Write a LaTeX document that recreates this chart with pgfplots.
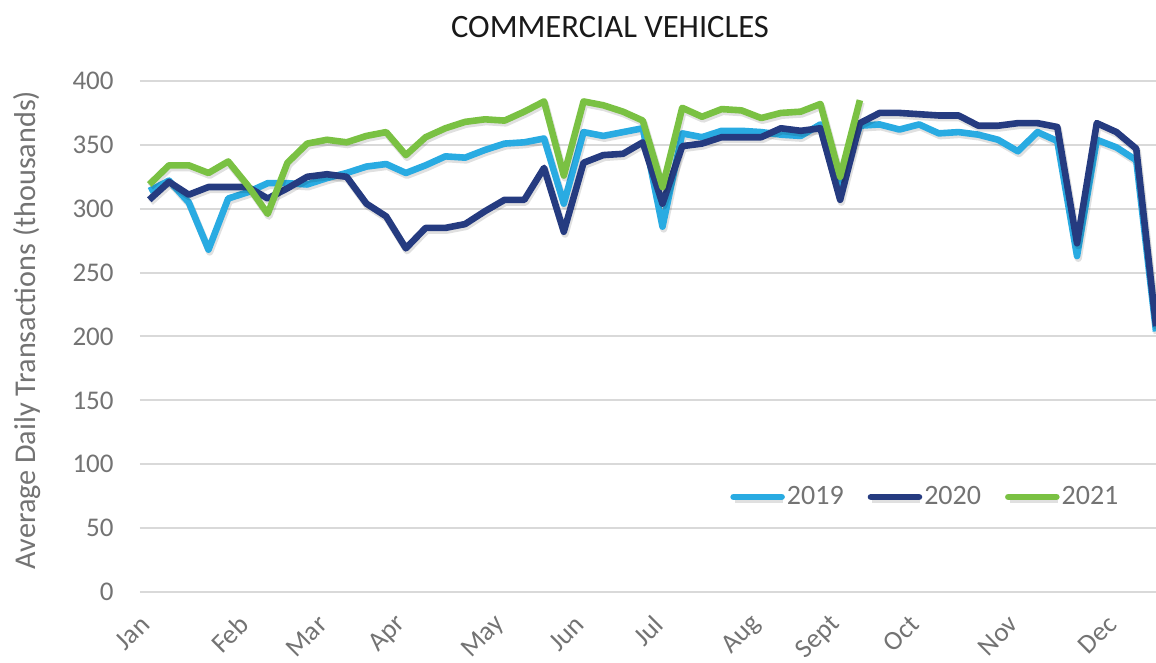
\documentclass[border=0pt]{standalone}
\usepackage{pgfplots}
\pgfplotsset{compat=1.18}
\usepackage{fontspec}
\setmainfont{Carlito}
\definecolor{c19}{HTML}{29ABE2}
\definecolor{c20}{HTML}{253B80}
\definecolor{c21}{HTML}{7AC143}
\definecolor{tickgray}{HTML}{737373}
\definecolor{gridgray}{HTML}{D9D9D9}
\pgfplotstableread{
w v
0 314
1 322
2 305
3 268
4 308
5 313
6 320
7 320
8 319
9 324
10 328
11 333
12 335
13 328
14 334
15 341
16 340
17 346
18 351
19 352
20 355
21 304
22 360
23 357
24 360
25 363
26 286
27 359
28 356
29 361
30 361
31 360
32 358
33 357
34 366
35 320
36 365
37 366
38 362
39 366
40 359
41 360
42 358
43 354
44 345
45 360
46 353
47 263
48 354
49 348
50 338
51 204
}\yA
\pgfplotstableread{
w v
0 307
1 321
2 311
3 317
4 317
5 317
6 308
7 316
8 325
9 327
10 325
11 304
12 294
13 269
14 285
15 285
16 288
17 298
18 307
19 307
20 332
21 282
22 336
23 342
24 343
25 352
26 304
27 349
28 351
29 356
30 356
31 356
32 363
33 361
34 363
35 307
36 367
37 375
38 375
39 374
40 373
41 373
42 365
43 365
44 367
45 367
46 364
47 273
48 367
49 360
50 347
51 208
}\yB
\pgfplotstableread{
w v
0 319
1 334
2 334
3 328
4 337
5 318
6 296
7 336
8 351
9 354
10 352
11 357
12 360
13 342
14 356
15 363
16 368
17 370
18 369
19 376
20 384
21 326
22 384
23 381
24 376
25 369
26 317
27 379
28 372
29 378
30 377
31 371
32 375
33 376
34 382
35 325
36 385
}\yC
\begin{document}
\begin{tikzpicture}
\begin{axis}[
  scale only axis,
  width=508bp, height=255.5bp,
  at={(0,0)}, anchor=south west,
  xmin=-0.47, xmax=51,
  ymin=0, ymax=400,
  ytick={0,50,...,400},
  xtick={0,5,9,13,18,22,26,31,35,39,44,49},
  xticklabels={Jan,Feb,Mar,Apr,May,Jun,Jul,Aug,Sept,Oct,Nov,Dec},
  axis line style={draw=none},
  major tick length=0pt,
  ymajorgrids,
  grid style={gridgray, line width=1bp},
  /pgf/number format/assume math mode=true,
  tick label style={font=\fontsize{13.5bp}{16bp}\selectfont, text=tickgray},
  yticklabel style={inner sep=0pt, xshift=-13bp},
  xticklabel style={xshift=-2bp, yshift=-14bp, rotate=45, anchor=east, inner sep=0pt, font=\fontsize{13.5bp}{16bp}\selectfont},
  legend columns=3,
  legend style={at={(0.773,0.186)}, anchor=center, draw=none, fill=none,
     font=\fontsize{14bp}{16bp}\selectfont, text=tickgray,
     nodes={inner sep=1bp}, /tikz/every even column/.append style={column sep=11bp}},
  legend image code/.code={\draw[#1, line cap=round] (0bp,0bp) -- (24bp,0bp);},
  every axis plot/.append style={line width=3.3bp, line join=round,
     preaction={draw=black, draw opacity=0.12, line width=3.6bp, transform canvas={xshift=0.6bp, yshift=-1.2bp}}},
  clip=false,
]
\addplot[c19] table[x=w,y=v] {\yA};
\addlegendentry{2019}
\addplot[c20] table[x=w,y=v] {\yB};
\addlegendentry{2020}
\addplot[c21] table[x=w,y=v] {\yC};
\addlegendentry{2021}
\end{axis}
\node[font=\fontsize{16.3bp}{19bp}\selectfont, text=black!90] at (235bp,282.5bp) {COMMERCIAL VEHICLES};
\node[rotate=90, font=\fontsize{15.1bp}{18bp}\selectfont, text=tickgray] at (-56.5bp,131bp) {Average Daily Transactions (thousands)};
\pgfresetboundingbox
\path[use as bounding box] (-70bp,-35.5bp) rectangle (508bp,296bp);
\end{tikzpicture}
\end{document}
